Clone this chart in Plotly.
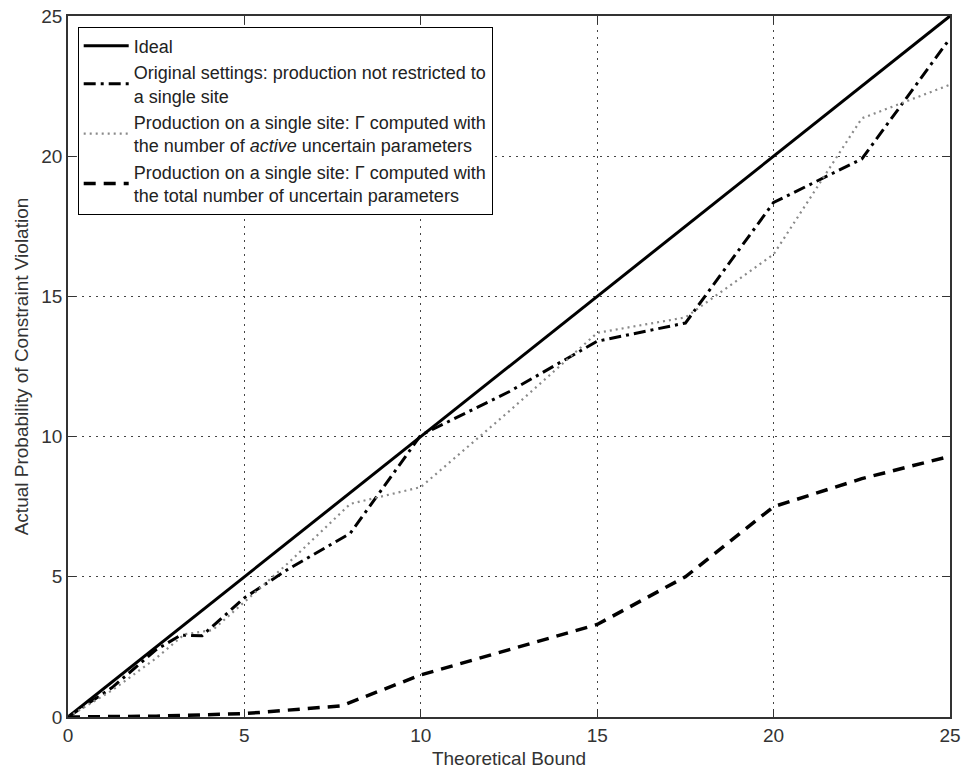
import plotly.graph_objects as go

# Ideal reference line
ideal_x = [0, 25]
ideal_y = [0, 25]

# Original settings: production not restricted to a single site
orig_x = [0, 1.25, 2.5, 3.2, 3.8, 5, 6.25, 8, 10, 12.5, 15, 17.5, 20, 22.5, 25]
orig_y = [0, 1.05, 2.4, 2.92, 2.9, 4.25, 5.28, 6.55, 10.05, 11.6, 13.4, 14.05, 18.35, 19.9, 24.2]

# Single site, Gamma from the number of active uncertain parameters
active_x = [0, 1.25, 2.5, 3.3, 4.1, 5, 6.25, 8, 10, 12.5, 15, 17.5, 20, 22.5, 25]
active_y = [0, 0.95, 2.1, 2.95, 3.1, 4.1, 5.5, 7.6, 8.2, 10.9, 13.7, 14.25, 16.5, 21.35, 22.55]

# Single site, Gamma from the total number of uncertain parameters
total_x = [0, 2.5, 5, 7.75, 10, 15, 17.5, 20, 22.5, 25]
total_y = [0, 0.03, 0.12, 0.4, 1.5, 3.3, 5.0, 7.5, 8.5, 9.3]

tick_vals = [0, 5, 10, 15, 20, 25]
tick_text = ["0", "5", "10", "15", "20", "25"]

FONT = "Liberation Sans, Arial, sans-serif"

fig = go.Figure()
fig.add_trace(go.Scatter(
    x=ideal_x, y=ideal_y, mode="lines", name="Ideal",
    line=dict(color="black", width=3, dash="solid"),
))
fig.add_trace(go.Scatter(
    x=orig_x, y=orig_y, mode="lines",
    name="Original settings: production not restricted to<br>a single site",
    line=dict(color="black", width=3, dash="12px,5px,3px,5px"),
))
fig.add_trace(go.Scatter(
    x=active_x, y=active_y, mode="lines",
    name="Production on a single site: \u0393 computed with<br>the number of <i>active</i> uncertain parameters",
    line=dict(color="#8a8a8a", width=2.2, dash="2px,4px"),
))
fig.add_trace(go.Scatter(
    x=total_x, y=total_y, mode="lines",
    name="Production on a single site: \u0393 computed with<br>the total number of uncertain parameters",
    line=dict(color="black", width=3.5, dash="12px,8px"),
))

axis_common = dict(
    range=[0, 25],
    tickmode="array",
    tickvals=tick_vals,
    ticktext=tick_text,
    ticks="inside",
    ticklen=8,
    tickwidth=1.2,
    tickcolor="#333",
    showline=True,
    linecolor="#333",
    linewidth=1.5,
    mirror="allticks",
    showgrid=True,
    gridcolor="#444",
    gridwidth=1,
    griddash="2px,5px",
    zeroline=False,
    automargin=False,
    tickfont=dict(family=FONT, size=19, color="#333"),
)

fig.update_xaxes(
    **axis_common,
    title=dict(text="Theoretical Bound", font=dict(family=FONT, size=19, color="#333"), standoff=7),
)
fig.update_yaxes(
    **axis_common,
    title=dict(text="Actual Probability of Constraint Violation",
               font=dict(family=FONT, size=19, color="#333"), standoff=8),
)

fig.update_layout(
    width=971,
    height=772,
    margin=dict(l=68, r=21, t=16, b=55),
    plot_bgcolor="white",
    paper_bgcolor="white",
    font=dict(family=FONT, color="#222"),
    showlegend=True,
    legend=dict(
        x=0.011, y=0.985, xanchor="left", yanchor="top",
        bgcolor="white", bordercolor="black", borderwidth=1,
        font=dict(family=FONT, size=18, color="#222"),
        itemwidth=45,
        tracegroupgap=0,
    ),
)

fig.write_html("out.html")
